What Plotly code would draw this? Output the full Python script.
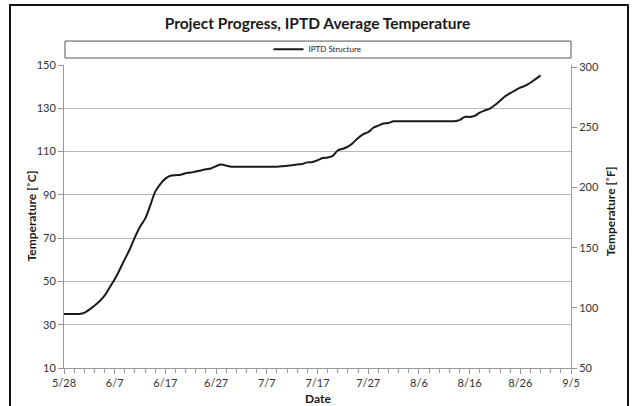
import plotly.graph_objects as go
import datetime as dt

start = dt.date(2010, 5, 28)
day_offsets = list(range(0, 95))
temp_c = [35, 35, 35, 35, 35.5, 37, 38.8, 40.8, 43.4, 47.2,
          51, 55.5, 60.3, 65, 70.5, 75.3, 79, 85, 91.5, 95,
          97.5, 98.8, 99.1, 99.3, 100, 100.3, 100.8, 101.3, 101.8, 102.2,
          103.3, 104, 103.5, 103, 103, 103, 103, 103, 103, 103,
          103, 103, 103, 103.2, 103.5, 103.7, 104, 104.3, 105, 105.2,
          106, 107, 107.3, 108, 110.5, 111.3, 112.3, 114, 116.3, 118,
          119, 121, 122, 123, 123.2, 124, 124, 124, 124, 124,
          124, 124, 124, 124, 124, 124, 124, 124, 124.5, 126,
          126, 126.5, 128, 129, 129.8, 131.5, 133.5, 135.5, 137, 138.3,
          139.5, 140.5, 141.8, 143.5, 145.2]
dates = [start + dt.timedelta(days=d) for d in day_offsets]
temp_f = [c * 9 / 5 + 32 for c in temp_c]

tick_dates = [start + dt.timedelta(days=10 * i) for i in range(11)]
tick_text = [f"{d.month}/{d.day}" for d in tick_dates]
left_ticks = [10, 30, 50, 70, 90, 110, 130, 150]
right_ticks = [50, 100, 150, 200, 250, 300]

fig = go.Figure()
fig.add_trace(go.Scatter(x=dates, y=temp_c, mode="lines", name="IPTD Structure",
                         line=dict(color="#1a1a1a", width=2), line_shape="spline"))
fig.add_trace(go.Scatter(x=dates, y=temp_f, mode="lines", yaxis="y2", showlegend=False,
                         line=dict(color="rgba(0,0,0,0)", width=0), hoverinfo="skip"))

font_fam = "Lato"
tickfont = dict(family=font_fam, size=11, color="#333333")
axtitlefont = dict(family=font_fam, size=12, color="#1a1a1a")

fig.update_layout(
    width=635, height=406,
    margin=dict(l=64, r=64, t=65, b=38),
    paper_bgcolor="white", plot_bgcolor="white",
    title=dict(text="<b>Project Progress, IPTD Average Temperature</b>",
               x=0.5, xanchor="center", y=1 - 24 / 406, yanchor="middle",
               font=dict(family=font_fam, size=15.5, color="#1a1a1a")),
    showlegend=True,
    legend=dict(orientation="h", x=0.5, xanchor="center", y=1.052, yanchor="middle",
                font=dict(family=font_fam, size=8, color="#222"),
                bgcolor="rgba(0,0,0,0)", itemwidth=30),
    xaxis=dict(type="date", automargin=False,
               range=[start, start + dt.timedelta(days=100)],
               tickvals=tick_dates, ticktext=tick_text,
               showgrid=False, showline=True, linecolor="#999999", linewidth=1,
               ticks="outside", ticklen=5, tickcolor="#999999",
               minor=dict(dtick=2 * 86400000, tick0=start, ticks="outside", ticklen=4,
                          tickcolor="#999999", showgrid=False),
               tickfont=tickfont, zeroline=False, mirror=False),
    yaxis=dict(range=[10, 150], tickvals=left_ticks, automargin=False,
               showgrid=True, gridcolor="#b8b8b8", gridwidth=1,
               showline=True, linecolor="#999999", linewidth=1,
               ticks="outside", ticklen=5, tickcolor="#999999",
               tickfont=tickfont, zeroline=False),
    yaxis2=dict(range=[50, 302], tickvals=right_ticks, overlaying="y", side="right",
                automargin=False,
                showgrid=False, showline=True, linecolor="#999999", linewidth=1,
                ticks="outside", ticklen=5, tickcolor="#999999",
                tickfont=tickfont, zeroline=False),
    annotations=[
        dict(text="<b>Temperature [˚C]</b>", xref="paper", yref="paper",
             x=(31 - 64) / 507, y=0.5, textangle=-90, showarrow=False,
             xanchor="center", yanchor="middle", font=axtitlefont),
        dict(text="<b>Temperature [˚F]</b>", xref="paper", yref="paper",
             x=(610 - 64) / 507, y=(367.5 - 211) / 302.5, textangle=-90, showarrow=False,
             xanchor="center", yanchor="middle", font=axtitlefont),
        dict(text="<b>Date</b>", xref="paper", yref="paper",
             x=0.5, y=(367.5 - 397.5) / 302.5, showarrow=False,
             xanchor="center", yanchor="middle", font=axtitlefont),
    ],
    shapes=[
        dict(type="rect", xref="paper", yref="paper",
             x0=0.002, x1=1.0, y0=1.023, y1=1.079,
             line=dict(color="#555555", width=1), fillcolor="rgba(0,0,0,0)"),
        dict(type="rect", xref="paper", yref="paper",
             x0=-0.1065, x1=1.1124, y0=-0.25, y1=(367.5 - 5) / 302.5,
             line=dict(color="#111111", width=2), fillcolor="rgba(0,0,0,0)", layer="above"),
    ],
)

fig.write_html("out.html", config={"displayModeBar": False},
               post_script="document.body.style.margin='0';document.body.style.padding='0';")
